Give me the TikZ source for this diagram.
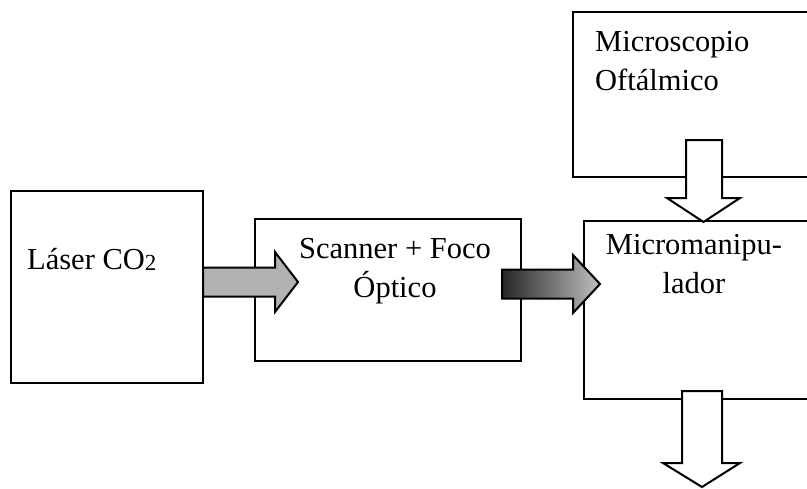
\documentclass[tikz,border=0pt]{standalone}
\usepackage{fontspec}
\setmainfont{Liberation Serif}
\usetikzlibrary{calc}

\begin{document}
\begin{tikzpicture}[
  x=1pt, y=-1pt,
  every node/.style={font=\fontsize{30.5}{39}\selectfont},
  box/.style={draw, line width=2pt, outer sep=0pt, inner sep=0pt},
  lbl/.style={inner sep=0pt, anchor=base},
  blk/.style={draw, line width=2pt, line join=miter},
]
  \useasboundingbox (0,0) rectangle (807,488);
  \clip (0,0) rectangle (807,488);

  % boxes
  \node[box, minimum width=192pt, minimum height=192pt] (laser)   at (107,287)   {};
  \node[box, minimum width=266pt, minimum height=142pt] (scanner) at (388,290)   {};
  \node[box, minimum width=246pt, minimum height=178pt] (micro)   at (707,310)   {};
  \node[box, minimum width=267pt, minimum height=165pt] (micros)  at (706.5,94.5) {};

  % labels (base = last line)
  \node[lbl, anchor=base west] (laser-lbl) at (27,269)
    {Láser CO\raisebox{-1.5pt}{\fontsize{23}{23}\selectfont 2}};
  \node[lbl, align=center] (scanner-lbl) at (395,297) {Scanner + Foco\\Óptico};
  \node[lbl, align=center] (micro-lbl)   at (694,293) {Micromanipu-\\lador};
  \node[lbl, anchor=base west, align=left] (micros-lbl) at (595,90)
    {Microscopio\\Oftálmico};

  % block arrows
  \draw[blk, fill=gray!60] (laser.east |- 0,267.5) -- ++(72,0) -- ++(0,-15.5)
    -- ++(23,30) -- ++(-23,30) -- ++(0,-15.5) -- ++(-72,0) -- cycle;
  \draw[blk, left color=black!85, right color=gray!50]
    ($(scanner.east |- 0,269.5)+(-19,0)$) -- ++(71,0) -- ++(0,-14.5)
    -- ++(27,29) -- ++(-27,29) -- ++(0,-14.5) -- ++(-71,0) -- cycle;
  \draw[blk, fill=white] ($(micros.south -| 686,0)+(0,-37)$) -- ++(0,58) -- ++(-19,0)
    -- ++(36.5,24) -- ++(36.5,-24) -- ++(-18,0) -- ++(0,-58) -- cycle;
  \draw[blk, fill=white] ($(micro.south -| 682,0)+(0,-8)$) -- ++(0,72) -- ++(-19,0)
    -- ++(39,24) -- ++(38,-24) -- ++(-18,0) -- ++(0,-72) -- cycle;
\end{tikzpicture}
\end{document}
